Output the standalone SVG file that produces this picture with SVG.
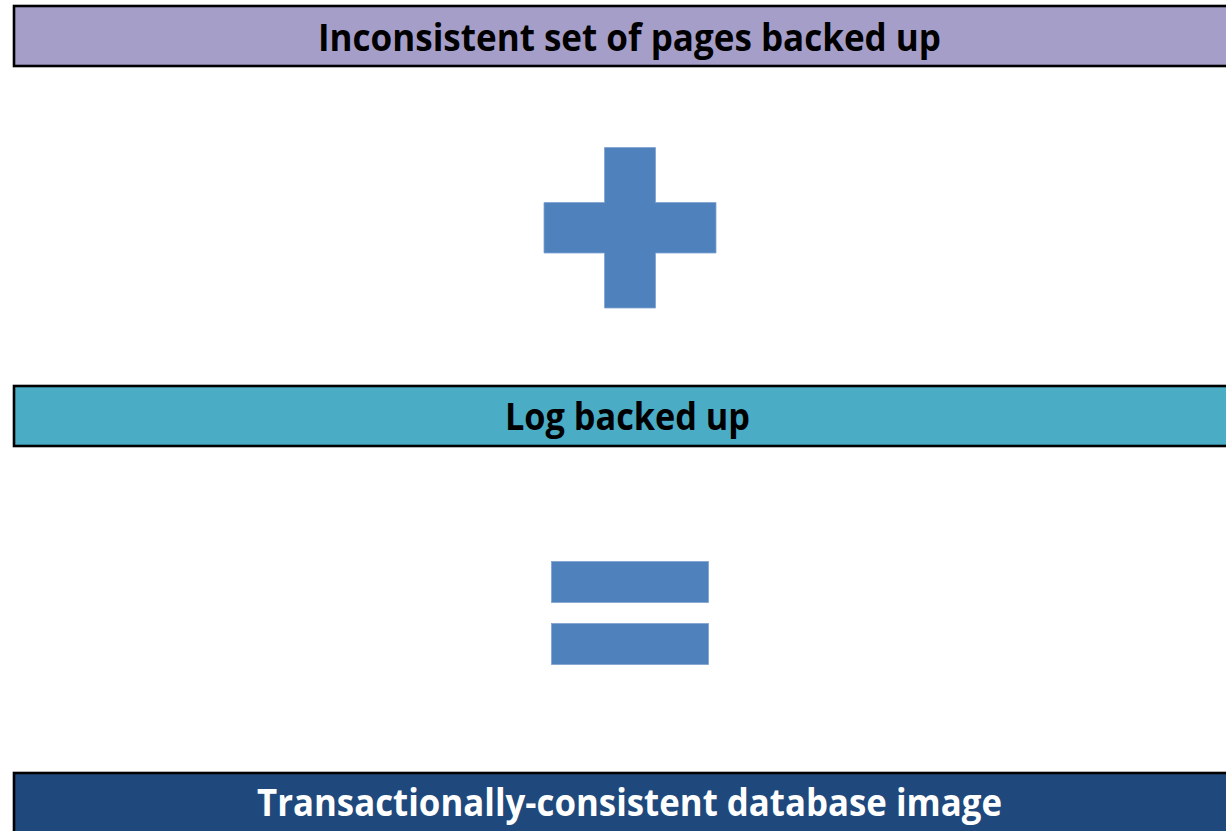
<svg xmlns="http://www.w3.org/2000/svg" width="1226" height="831" viewBox="0 0 1226 831">
<style>
.box{stroke:#000;stroke-width:2.6}
.lbl{font-family:"Open Sans","Liberation Sans",sans-serif;font-weight:700;font-size:37px;text-anchor:middle}
.sym{fill:#4F81BD;stroke:#7FA2D0;stroke-width:0.8}
</style>
<rect width="1226" height="831" fill="#fff"/>
<g id="pages">
<rect class="box" x="14" y="6" width="1230" height="60" fill="#A49EC9"/>
<text class="lbl" x="629.5" y="50.7" fill="#000" textLength="623" lengthAdjust="spacingAndGlyphs">Inconsistent set of pages backed up</text>
</g>
<g id="plus">
<path class="sym" d="M604.5 147.5H655.5V202.5H716V253H655.5V308H604.5V253H544V202.5H604.5Z"/>
</g>
<g id="log">
<rect class="box" x="14" y="386" width="1230" height="60" fill="#4BACC6"/>
<text class="lbl" x="627.5" y="430" fill="#000" textLength="245" lengthAdjust="spacingAndGlyphs">Log backed up</text>
</g>
<g id="equals">
<rect class="sym" x="551.5" y="561.5" width="157" height="41"/>
<rect class="sym" x="551.5" y="623.5" width="157" height="41"/>
</g>
<g id="image">
<rect class="box" x="14" y="773" width="1230" height="80" fill="#1F497D"/>
<text class="lbl" x="629.5" y="815.7" fill="#fff" textLength="745" lengthAdjust="spacingAndGlyphs">Transactionally-consistent database image</text>
</g>
<g id="connectors"></g>
</svg>
